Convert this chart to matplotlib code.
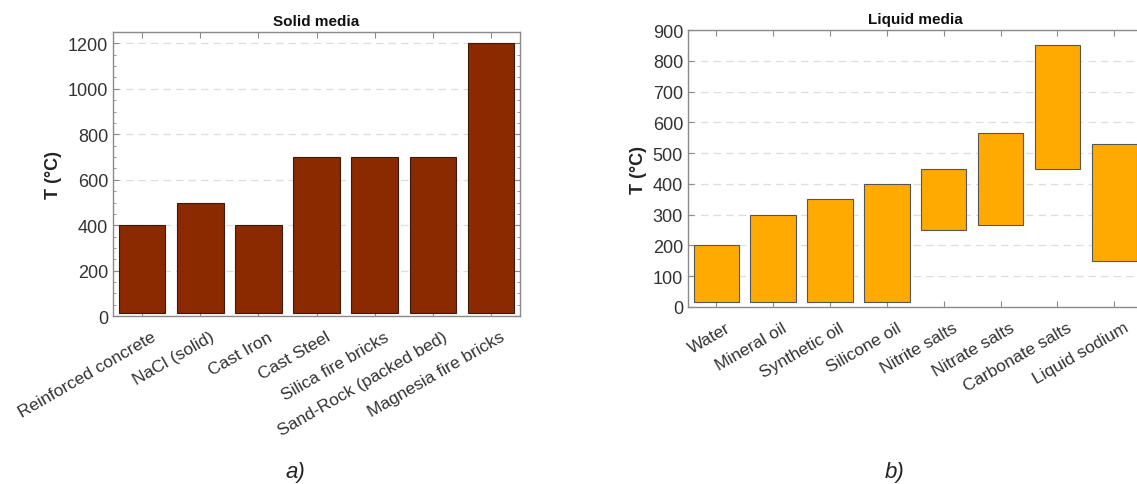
import matplotlib
matplotlib.use("Agg")
import matplotlib.pyplot as plt
from matplotlib.ticker import MultipleLocator
from matplotlib.transforms import ScaledTranslation

plt.rcParams['font.family'] = ['Liberation Sans', 'DejaVu Sans']

# Solid storage media: maximum operating temperature (°C)
solid_names = ["Reinforced concrete", "NaCl (solid)", "Cast Iron", "Cast Steel",
               "Silica fire bricks", "Sand-Rock (packed bed)", "Magnesia fire bricks"]
solid_min = [15, 15, 15, 15, 15, 15, 15]
solid_max = [400, 500, 400, 700, 700, 700, 1200]

# Liquid storage media: operating temperature range (°C)
liquid_names = ["Water", "Mineral oil", "Synthetic oil", "Silicone oil",
                "Nitrite salts", "Nitrate salts", "Carbonate salts", "Liquid sodium"]
liquid_min = [15, 15, 15, 15, 250, 265, 450, 150]
liquid_max = [200, 300, 350, 400, 450, 565, 850, 530]

fig = plt.figure(figsize=(11.37, 4.85), dpi=100)

ax1 = fig.add_axes([0.0994, 0.346, 0.358, 0.586])
ax2 = fig.add_axes([0.605, 0.365, 0.400, 0.571])


def style_axes(ax, title):
    for s in ax.spines.values():
        s.set_color('#8a8a8a')
        s.set_linewidth(1.0)
    ax.tick_params(direction='in', top=True, right=True, colors='#8a8a8a',
                   labelcolor='#333333', labelsize=13, length=4)
    ax.tick_params(axis='x', labelsize=12.5, pad=7)
    ax.set_axisbelow(True)
    ax.yaxis.grid(True, linestyle=(0, (6, 4)), color='#dddddd', linewidth=0.9)
    ax.set_title(title, fontsize=11, fontweight='bold', color='#111111', pad=5)
    ax.set_ylabel("T (°C)", fontsize=13, fontweight='bold', color='#222222', labelpad=4)
    # nudge rotated category labels so their ends sit just right of the ticks
    shift = ScaledTranslation(9 / 100, -3 / 100, fig.dpi_scale_trans)
    for lbl in ax.get_xticklabels():
        lbl.set_transform(lbl.get_transform() + shift)


# Solid media
x1 = range(len(solid_names))
h1 = [t - b for t, b in zip(solid_max, solid_min)]
ax1.bar(x1, h1, bottom=solid_min, width=0.8, color='#8b2a00', edgecolor='#3a1a0a', linewidth=0.8)
ax1.set_xlim(-0.5, len(solid_names) - 0.5)
ax1.set_ylim(0, 1250)
ax1.yaxis.set_major_locator(MultipleLocator(200))
ax1.yaxis.set_minor_locator(MultipleLocator(50))
ax1.tick_params(which='minor', direction='in', right=True, length=2, colors='#8a8a8a')
ax1.set_xticks(list(x1))
ax1.set_xticklabels(solid_names, rotation=30, ha='right', rotation_mode='anchor')
style_axes(ax1, "Solid media")

# Liquid media
x2 = range(len(liquid_names))
h2 = [t - b for t, b in zip(liquid_max, liquid_min)]
ax2.bar(x2, h2, bottom=liquid_min, width=0.8, color='#ffaa00', edgecolor='#555555', linewidth=0.8)
ax2.set_xlim(-0.5, len(liquid_names) - 0.5)
ax2.set_ylim(0, 900)
ax2.yaxis.set_major_locator(MultipleLocator(100))
ax2.set_xticks(list(x2))
ax2.set_xticklabels(liquid_names, rotation=30, ha='right', rotation_mode='anchor')
style_axes(ax2, "Liquid media")

fig.text(0.26, 0.015, "a)", fontsize=16, style='italic', ha='center', color='#222222')
fig.text(0.787, 0.015, "b)", fontsize=16, style='italic', ha='center', color='#222222')

fig.savefig("out.png", dpi=100)
